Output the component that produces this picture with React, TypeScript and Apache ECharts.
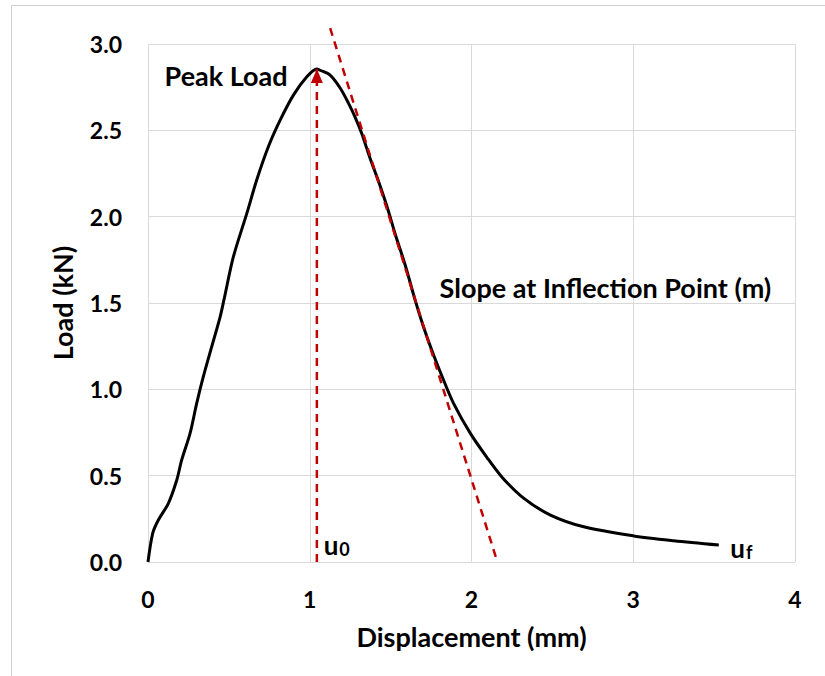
import React, { useEffect, useRef } from "react";
import * as echarts from "echarts";

// Load–displacement curve (mm, kN)
const displacement = [
  0, 0.029, 0.064, 0.126, 0.178, 0.208, 0.26, 0.301, 0.342, 0.394, 0.446, 0.47,
  0.528, 0.611, 0.672, 0.744, 0.817, 0.899, 0.982, 1.044, 1.064, 1.126, 1.188,
  1.24, 1.281, 1.322, 1.374, 1.425, 1.477, 1.528, 1.59, 1.652, 1.704, 1.765,
  1.827, 1.889, 1.993, 2.096, 2.19, 2.322, 2.488, 2.694, 3.003, 3.251, 3.529,
];
const load = [
  0, 0.166, 0.243, 0.34, 0.475, 0.59, 0.745, 0.919, 1.073, 1.247, 1.42, 1.52,
  1.768, 2.019, 2.212, 2.405, 2.559, 2.704, 2.81, 2.855, 2.848, 2.82, 2.745,
  2.656, 2.575, 2.48, 2.335, 2.205, 2.06, 1.9, 1.72, 1.515, 1.36, 1.2,
  1.054, 0.919, 0.745, 0.605, 0.49, 0.37, 0.272, 0.204, 0.151, 0.123, 0.098,
];

// Tangent at inflection point (two end points)
const tangentX = [1.126, 2.16];
const tangentY = [3.092, 0];

// Peak load arrow
const peakX = 1.044;
const peakArrowY = [0, 2.855];

// Axes
const xTicks = [0, 1, 2, 3, 4];
const yTicks = [0, 0.5, 1.0, 1.5, 2.0, 2.5, 3.0];

// Annotations
const annotationText = ["Peak Load", "Slope at Inflection Point (m)"];
const annotationX = [0.483, 2.828];
const annotationY = [2.82, 1.592];
const subLabels = [
  { main: "u", sub: "0", x: 1.083, y: 0.098 },
  { main: "u", sub: "f", x: 3.597, y: 0.081 },
];

const FONT = "Lato, 'Open Sans', sans-serif";
const RED = "#c00000";
const GRIDC = "#d9d9d9";

export default function App() {
  const ref = useRef<HTMLDivElement>(null);
  useEffect(() => {
    if (!ref.current) return;
    const chart = echarts.init(ref.current, null, { renderer: "svg" });
    const curve = displacement.map((x, i) => [x, load[i]]);
    const tangent = tangentX.map((x, i) => [x, tangentY[i]]);
    const tickStyle = { fontFamily: FONT, fontWeight: "bold", color: "#000", fontSize: 23 };
    const wordStyle = { fontFamily: FONT, fontWeight: "bold", color: "#000", fontSize: 27 };

    const markData: any[] = annotationText.map((t, i) => ({
      coord: [annotationX[i], annotationY[i]],
      label: { formatter: t, position: "inside", ...wordStyle },
    }));
    subLabels.forEach((s) => {
      markData.push({
        coord: [s.x, s.y],
        label: {
          formatter: `{a|${s.main}}{b|${s.sub}}`,
          position: "right",
          distance: 0,
          rich: {
            a: { ...wordStyle, fontSize: 26, lineHeight: 26, verticalAlign: "bottom" },
            b: { ...wordStyle, fontSize: 18, lineHeight: 26, verticalAlign: "bottom", padding: [0, 0, 0, 1] },
          },
        },
      });
    });

    chart.setOption({
      animation: false,
      backgroundColor: "#fff",
      graphic: [
        {
          type: "rect",
          shape: { x: 11.5, y: 5.5, width: 900, height: 900 },
          style: { fill: "none", stroke: "#d0d0d0", lineWidth: 1 },
          silent: true,
        },
      ],
      grid: { left: 148, right: 30, top: 44, bottom: 114, containLabel: false, outerBoundsMode: "none" },
      xAxis: {
        type: "value",
        min: xTicks[0],
        max: xTicks[xTicks.length - 1],
        interval: 1,
        name: "Displacement (mm)",
        nameLocation: "middle",
        nameGap: 61,
        nameTextStyle: { ...wordStyle },
        axisLine: { show: false },
        axisTick: { show: false },
        axisLabel: { ...tickStyle, margin: 25, showMinLabel: true, showMaxLabel: true },
        splitLine: { show: true, lineStyle: { color: GRIDC, width: 1 } },
      },
      yAxis: {
        type: "value",
        min: yTicks[0],
        max: yTicks[yTicks.length - 1],
        interval: 0.5,
        name: "Load (kN)",
        nameLocation: "middle",
        nameGap: 72,
        nameTextStyle: { ...wordStyle },
        axisLine: { show: false },
        axisTick: { show: false },
        axisLabel: { ...tickStyle, margin: 26, formatter: (v: number) => v.toFixed(1) },
        splitLine: { show: true, lineStyle: { color: GRIDC, width: 1 } },
      },
      series: [
        {
          name: "Load",
          type: "line",
          data: curve,
          smooth: 0.3,
          symbol: "none",
          lineStyle: { color: "#000", width: 3 },
          z: 3,
          markPoint: {
            symbol: "circle",
            symbolSize: 1,
            itemStyle: { color: "rgba(0,0,0,0)" },
            data: markData,
          },
        },
        {
          name: "Tangent",
          type: "line",
          data: tangent,
          clip: false,
          symbol: "none",
          lineStyle: { color: RED, width: 2.5, type: [8, 6] },
          z: 4,
        },
        {
          name: "Peak",
          type: "line",
          clip: false,
          data: [
            { value: [peakX, peakArrowY[0]], symbol: "none" },
            {
              value: [peakX, peakArrowY[1]],
              symbol: "triangle",
              symbolSize: [12, 14],
              symbolOffset: [0, 7],
              itemStyle: { color: RED },
            },
          ],
          showSymbol: true,
          lineStyle: { color: RED, width: 2.5, type: [8, 6] },
          z: 5,
        },
      ],
    });
    return () => chart.dispose();
  }, []);
  return <div ref={ref} style={{ position: "fixed", left: 0, top: 0, width: 825, height: 676 }} />;
}
